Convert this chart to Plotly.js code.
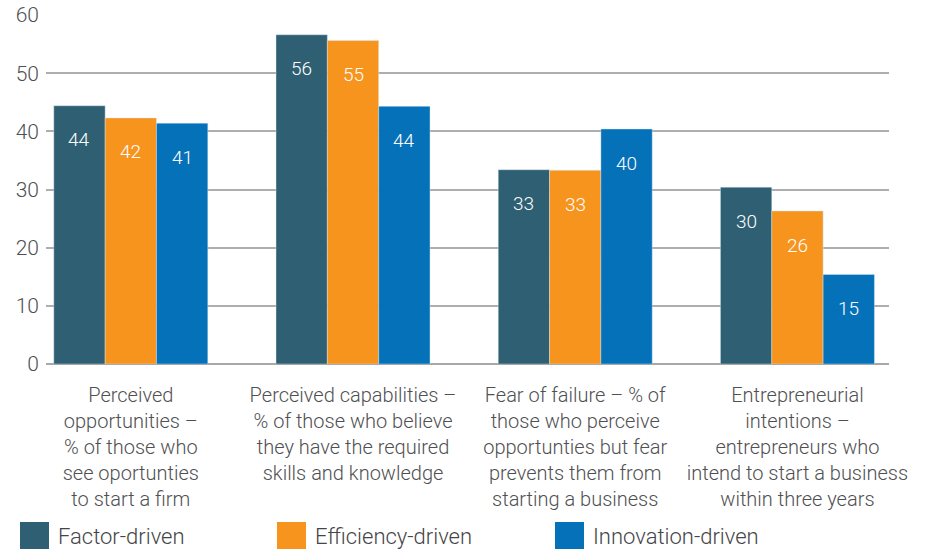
<!DOCTYPE html>
<html>
<head>
<meta charset="utf-8">
<script src="https://cdn.plot.ly/plotly-3.0.1.min.js"></script>
<style>html,body{margin:0;padding:0;background:#fff;}#chart{width:930px;height:549px;}</style>
</head>
<body>
<div id="chart"></div>
<script>
// ---- data ----
const categories = [
  "Perceived<br>opportunities –<br>% of those who<br>see oportunties<br>to start a firm",
  "Perceived capabilities –<br>% of those who believe<br>they have the required<br>skills and knowledge",
  "Fear of failure – % of<br>those who perceive<br>opportunties but fear<br>prevents them from<br>starting a business",
  "Entrepreneurial<br>intentions –<br>entrepreneurs who<br>intend to start a business<br>within three years"
];
const seriesNames = ["Factor-driven", "Efficiency-driven", "Innovation-driven"];
const factorValues = [44.4, 56.6, 33.4, 30.4];
const efficiencyValues = [42.3, 55.6, 33.3, 26.3];
const innovationValues = [41.4, 44.3, 40.4, 15.4];
const factorLabels = ["44", "56", "33", "30"];
const efficiencyLabels = ["42", "55", "33", "26"];
const innovationLabels = ["41", "44", "40", "15"];
const yTickValues = [0, 10, 20, 30, 40, 50, 60];

// ---- styles ----
const colors = ["#2F5F73", "#F7941E", "#0571B9"];
const FONT = "Roboto, 'Liberation Sans', Arial, sans-serif";
const TEXT = "#4f5052";
const bargap = 0.307;

const seriesValues = [factorValues, efficiencyValues, innovationValues];
const seriesLabels = [factorLabels, efficiencyLabels, innovationLabels];

const traces = seriesNames.map((name, j) => ({
  type: "bar",
  name: name,
  x: categories,
  y: seriesValues[j],
  marker: { color: colors[j], line: { color: "rgba(220,235,245,0.7)", width: 0.6 } },
  showlegend: false,
  hoverinfo: "y+name"
}));

const barW = (1 - bargap) / seriesNames.length;
const annotations = [];
seriesNames.forEach((name, j) => {
  seriesValues[j].forEach((v, i) => {
    annotations.push({
      xref: "x", yref: "y",
      x: i + (j - (seriesNames.length - 1) / 2) * barW,
      y: v,
      yshift: -34,
      text: seriesLabels[j][i],
      showarrow: false,
      font: { family: FONT, size: 19, weight: 300, color: "#ffffff" }
    });
  });
});

// legend drawn as paper shapes + text
const shapes = [];
seriesNames.forEach((name, j) => {
  const x0px = [20, 277, 555][j];
  shapes.push({
    type: "rect", xref: "paper", yref: "paper",
    x0: (x0px - 46) / 843, x1: (x0px + 29 - 46) / 843,
    y0: (364 - 551) / 349, y1: (364 - 522) / 349,
    fillcolor: colors[j], line: { width: 0 }
  });
  annotations.push({
    xref: "paper", yref: "paper",
    x: (x0px + 36 - 46) / 843, y: (364 - 536) / 349,
    xanchor: "left", yanchor: "middle",
    text: name, showarrow: false,
    font: { family: FONT, size: 22, weight: 300, color: "#454547" }
  });
});

const layout = {
  width: 930, height: 549,
  margin: { l: 46, r: 41, t: 15, b: 185 },
  paper_bgcolor: "#ffffff", plot_bgcolor: "#ffffff",
  barmode: "group", bargap: bargap, bargroupgap: 0,
  showlegend: false,
  xaxis: {
    type: "category",
    range: [-0.3816, 3.412],
    showgrid: false,
    showline: false,
    ticks: "",
    ticklabelstandoff: 17,
    tickfont: { family: FONT, size: 20, weight: 300, color: TEXT },
    fixedrange: true
  },
  yaxis: {
    range: [0, 60],
    tickvals: yTickValues,
    showgrid: true, gridcolor: "#aeaeb0", gridwidth: 2,
    zeroline: true, zerolinecolor: "#a8a8aa", zerolinewidth: 2.5,
    showline: false,
    ticks: "",
    ticklabelstandoff: 6,
    tickfont: { family: FONT, size: 21, weight: 300, color: TEXT },
    fixedrange: true
  },
  shapes: shapes,
  annotations: annotations
};

Plotly.newPlot("chart", traces, layout, { displayModeBar: false, staticPlot: true });
</script>
</body>
</html>
